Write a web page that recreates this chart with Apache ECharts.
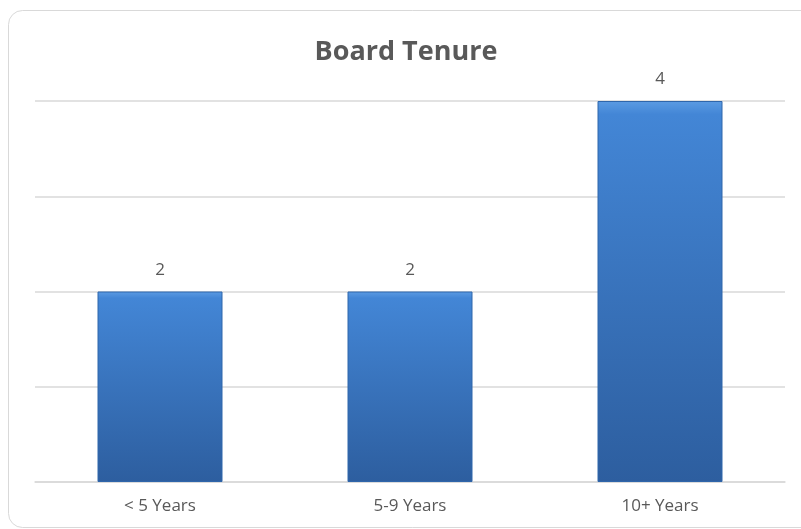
<!DOCTYPE html>
<html><head><meta charset="utf-8">
<script src="https://cdn.jsdelivr.net/npm/echarts@6/dist/echarts.min.js"></script>
<style>html,body{margin:0;padding:0;background:#fff}#c{width:801px;height:529px}</style>
</head><body><div id="c"></div>
<script>
const categories = ['< 5 Years', '5-9 Years', '10+ Years'];
const values = [2, 2, 4];
const chart = echarts.init(document.getElementById('c'));
chart.setOption({
  backgroundColor: '#fff',
  animation: false,
  graphic: [{
    type: 'rect', left: 8, top: 10, z: -1,
    shape: { width: 810, height: 517, r: 14 },
    style: { fill: '#fff', stroke: '#d9d9d9', lineWidth: 1 }
  }],
  title: {
    text: 'Board Tenure', left: 401, textAlign: 'center', top: 34,
    textStyle: { fontFamily: 'Open Sans', fontSize: 27, fontWeight: 'bold', color: '#595959' }
  },
  grid: { left: 35, right: 16, top: 101, bottom: 47 },
  xAxis: {
    type: 'category', data: categories,
    axisLine: { lineStyle: { color: '#d9d9d9', width: 1.5 } },
    axisTick: { show: false },
    axisLabel: { fontFamily: 'Open Sans', fontSize: 17, color: '#595959', margin: 16 }
  },
  yAxis: {
    type: 'value', min: 0, max: 4, interval: 1,
    axisLabel: { show: false },
    splitLine: { lineStyle: { color: '#d9d9d9', width: 1.5 } }
  },
  series: [{
    type: 'bar', data: values, barWidth: '50%',
    itemStyle: {
      color: new echarts.graphic.LinearGradient(0, 0, 0, 1, [
        { offset: 0, color: '#5b9be3' },
        { offset: 0.035, color: '#4386d6' },
        { offset: 1, color: '#2d5e9f' }
      ]),
      borderColor: '#2f66ab', borderWidth: 1
    },
    label: {
      show: true, position: 'top', distance: 13,
      fontFamily: 'Open Sans', fontSize: 17, color: '#595959'
    }
  }]
});
</script></body></html>
